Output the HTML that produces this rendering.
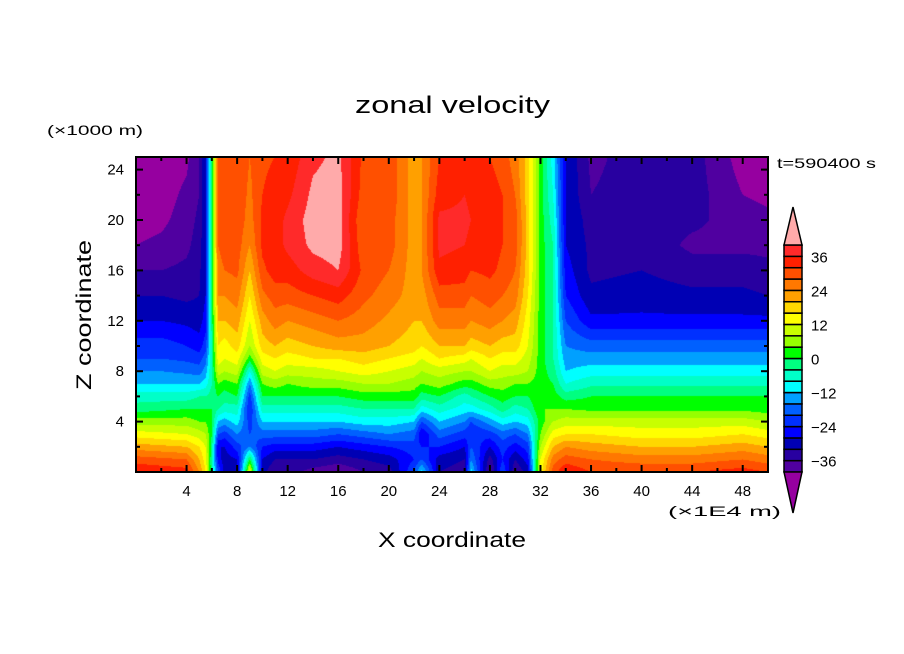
<!DOCTYPE html>
<html><head><meta charset="utf-8"><style>
body{margin:0;background:#fff;width:904px;height:654px;overflow:hidden;font-family:"Liberation Sans",sans-serif}
#wrap{position:relative;width:904px;height:654px}
canvas{position:absolute;left:136px;top:157px}
svg{position:absolute;left:0;top:0}
</style></head><body>
<div id="wrap">
<canvas id="cv" width="632" height="315"></canvas>
<svg id="sv" width="904" height="654"></svg>
</div>
<script>
const xCoords=[0,2,4,5,5.5,6,6.5,7,8,9,10,11,12,14,16,18,20,22,22.6,24,26,26.5,28,29,30,31,32,33,34,36,40,44,48,50];
const zCoords=[0,1,2,3,4,5,6,7,8,9,10,12,14,16,18,20,22,25];
const velocity=[
[36,30,22,14,6,-2,-6,-12,-16,-20,-22,-28,-32,-36,-40,-42,-43,-43],
[35,29,21,13,6,-1,-6,-12,-16,-20,-22,-28,-32,-36,-39,-41,-42,-43],
[34,28,20,12,6,0,-6,-12,-17,-21,-24,-29,-33,-35,-37,-38,-39,-41],
[24,20,16,10,4,0,-4,-12,-18,-22,-26,-30,-32,-33,-34,-35,-36,-36],
[16,14,12,8,4,0,-4,-10,-14,-18,-22,-26,-28,-28,-28,-28,-28,-28],
[-4,-4,-2,0,0,0,-2,-4,-4,-4,-4,-2,-2,-2,0,0,0,0],
[-20,-26,-28,-20,-12,-4,0,4,10,14,16,20,24,26,28,28,28,28],
[-30,-30,-28,-22,-14,-6,-2,2,8,12,14,20,24,28,30,30,30,30],
[-30,-28,-22,-16,-10,-6,0,4,10,14,18,22,26,29,30,31,31,31],
[14,0,-16,-20,-22,-24,-22,-16,-8,2,8,12,16,20,24,26,27,28],
[-30,-28,-24,-18,-12,-6,0,4,10,14,18,22,27,31,33,33,32,31],
[-36,-32,-26,-18,-12,-6,0,6,12,16,20,26,30,34,34,34,34,32],
[-34,-32,-26,-18,-12,-6,0,4,10,14,18,24,30,34,37,37,35,33],
[-38,-32,-26,-18,-12,-6,0,6,10,16,20,26,32,38,41,42,41,39],
[-40,-34,-28,-20,-12,-6,0,6,12,16,22,28,34,40,42,42,42,41],
[-36,-32,-26,-18,-10,-4,2,8,14,18,22,26,29,31,29,28,30,31],
[-34,-30,-24,-16,-10,-4,2,8,12,16,20,23,26,28,30,30,31,31],
[-20,-24,-22,-18,-12,-4,2,6,10,14,18,20,22,22,22,22,22,22],
[-10,-20,-24,-28,-20,-10,-2,4,8,12,16,20,22,24,24,24,24,24],
[-32,-30,-24,-18,-12,-6,0,6,10,16,20,26,30,35,37,37,34,32],
[-34,-32,-28,-22,-16,-10,-6,2,8,14,20,26,30,34,36,37,36,34],
[-10,-16,-20,-24,-20,-10,-4,2,8,12,18,24,28,32,35,36,35,33],
[-38,-34,-28,-22,-14,-6,0,6,12,16,20,26,30,33,34,34,34,32],
[-20,-24,-22,-18,-10,-2,2,6,10,14,18,24,28,31,32,32,32,30],
[-36,-32,-26,-20,-12,-6,0,4,10,14,18,22,26,28,30,30,28,26],
[-30,-26,-22,-16,-10,-4,0,4,8,10,12,14,16,18,18,18,18,18],
[14,12,8,4,2,4,4,2,2,2,2,2,2,2,2,2,2,2],
[30,26,20,14,8,4,2,0,-2,-4,-4,-4,-4,-4,-4,-6,-8,-10],
[36,30,24,16,10,4,-2,-8,-12,-14,-16,-20,-24,-26,-28,-28,-28,-28],
[32,28,22,16,10,3,0,-5,-10,-14,-18,-27,-31,-33,-33,-34,-36,-37],
[32,26,20,14,10,3,0,-5,-10,-14,-18,-27,-30,-32,-33,-34,-34,-34],
[32,26,20,14,10,3,0,-5,-10,-14,-18,-27,-31,-34,-37,-35,-34,-34],
[34,28,22,16,10,3,0,-5,-10,-14,-18,-27,-31,-34,-37,-38,-40,-42],
[32,26,20,14,8,2,0,-5,-10,-14,-18,-27,-32,-35,-37,-39,-41,-42]];
const levels=[-40,-36,-32,-28,-24,-20,-16,-12,-8,-4,0,4,8,12,16,20,24,28,32,36,40];
const bandColors=["#9600a0","#5000a0","#2800a0","#0000b4","#0000ff","#0030ff","#0060ff","#00a0ff","#00ffff","#00ffc8","#00ff80","#00ff00","#96ff00","#c8ff00","#ffff00","#ffd700","#ffa000","#ff7800","#ff5000","#ff2000","#ff2a2a","#ffaaaa"];
const xTicks=[4,8,12,16,20,24,28,32,36,40,44,48];
const zTicks=[4,8,12,16,20,24];
const cbLabels=[36,24,12,0,-12,-24,-36];

const PX=136,PY=157,PW=632,PH=315,XMAX=50,ZMAX=25;
const sx=x=>PX+x/XMAX*PW, sy=z=>PY+PH-z/ZMAX*PH;
function seg(a,v){let i=0;while(i<a.length-2&&v>a[i+1])i++;let t=(v-a[i])/(a[i+1]-a[i]);return[i,Math.max(0,Math.min(1,t))];}
function val(x,z){const[i,tx]=seg(xCoords,x),[j,tz]=seg(zCoords,z);
 const a=velocity[i][j],b=velocity[i+1][j],c=velocity[i][j+1],d=velocity[i+1][j+1];
 return (a*(1-tx)+b*tx)*(1-tz)+(c*(1-tx)+d*tx)*tz;}
function colorIdx(v){let k=0;while(k<levels.length&&v>=levels[k])k++;return k;}
const rgb=bandColors.map(h=>[parseInt(h.substr(1,2),16),parseInt(h.substr(3,2),16),parseInt(h.substr(5,2),16)]);
const ctx=document.getElementById('cv').getContext('2d');
const img=ctx.createImageData(PW,PH);
for(let py=0;py<PH;py++){const z=(PH-py-0.5)/PH*ZMAX;
 for(let px=0;px<PW;px++){const x=(px+0.5)/PW*XMAX;const c=rgb[colorIdx(val(x,z))];const o=(py*PW+px)*4;
  img.data[o]=c[0];img.data[o+1]=c[1];img.data[o+2]=c[2];img.data[o+3]=255;}}
ctx.putImageData(img,0,0);

const NS="http://www.w3.org/2000/svg",sv=document.getElementById('sv');
function mk(t,at,txt){const e=document.createElementNS(NS,t);for(const k in at)e.setAttribute(k,at[k]);if(txt!=null)e.textContent=txt;sv.appendChild(e);return e;}
let e=mk('rect',{x:PX,y:PY,width:PW,height:PH,fill:'none',stroke:'#000','stroke-width':2});


for(let x=2;x<XMAX;x+=2){const L=(x%4==0)?7:4;
 e=mk('line',{x1:sx(x),x2:sx(x),y1:PY+PH,y2:PY+PH-L,stroke:'#000','stroke-width':2});
 
 
 e=mk('line',{x1:sx(x),x2:sx(x),y1:PY,y2:PY+L,stroke:'#000','stroke-width':2});
 
 }
for(let z=2;z<ZMAX;z+=2){const L=(z%4==0)?7:4;
 e=mk('line',{x1:PX,x2:PX+L,y1:sy(z),y2:sy(z),stroke:'#000','stroke-width':2});
 
 
 e=mk('line',{x1:PX+PW,x2:PX+PW-L,y1:sy(z),y2:sy(z),stroke:'#000','stroke-width':2});
 
 }
xTicks.forEach(x=>{e=mk('text',{x:sx(x),y:496,'font-size':15,'text-anchor':'middle'},String(x));
 
 });
zTicks.forEach(z=>{e=mk('text',{x:124,y:sy(z)+5,'font-size':15,'text-anchor':'end'},String(z));
 
 });
e=mk('text',{x:355,y:113,'font-size':24,textLength:195,lengthAdjust:'spacingAndGlyphs'},'zonal velocity');


e=mk('text',{x:47,y:135,'font-size':14,textLength:96,lengthAdjust:'spacingAndGlyphs'},'(×1000 m)');


e=mk('text',{x:777,y:168,'font-size':14,textLength:99,lengthAdjust:'spacingAndGlyphs'},'t=590400 s');


e=mk('text',{x:378,y:547,'font-size':21,textLength:148,lengthAdjust:'spacingAndGlyphs'},'X coordinate');


e=mk('text',{x:91,y:390,'font-size':21,textLength:150,lengthAdjust:'spacingAndGlyphs',transform:'rotate(-90 91 390)'},'Z coordinate');


e=mk('text',{x:668,y:516,'font-size':14,textLength:113,lengthAdjust:'spacingAndGlyphs'},'(×1E4 m)');


// colorbar
const CX=784,CW=18,CT=245,CB=472,cy=v=>CB-(v-levels[0])/(levels[levels.length-1]-levels[0])*(CB-CT);
for(let k=0;k<levels.length-1;k++){
 e=mk('rect',{x:CX,y:cy(levels[k+1]),width:CW,height:cy(levels[k])-cy(levels[k+1]),fill:bandColors[k+1],stroke:'#000','stroke-width':1.5});
 
 }
e=mk('polygon',{points:`${CX},${CT} ${CX+CW},${CT} ${CX+CW/2},207`,fill:bandColors[bandColors.length-1],stroke:'#000','stroke-width':1.5});


e=mk('polygon',{points:`${CX},${CB} ${CX+CW},${CB} ${CX+CW/2},513`,fill:bandColors[0],stroke:'#000','stroke-width':1.5});


cbLabels.forEach(v=>{e=mk('text',{x:811,y:cy(v)+6,'font-size':15},v<0?'\u2212'+(-v):String(v));
 
 });
</script>
</body></html>
